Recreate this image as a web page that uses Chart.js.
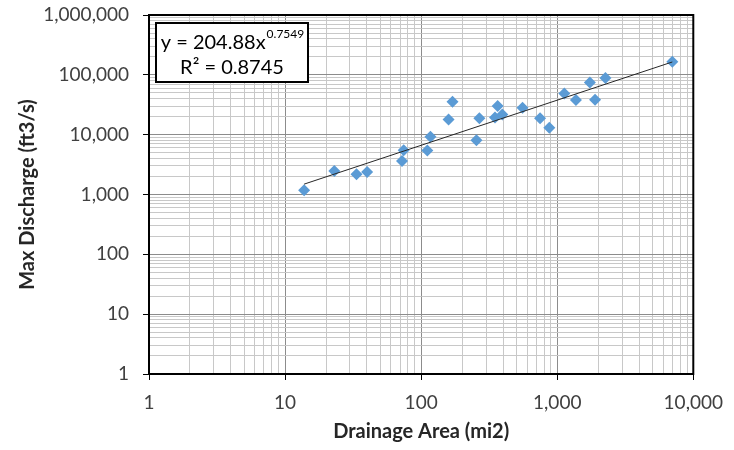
<!DOCTYPE html>
<html>
<head>
<meta charset="utf-8">
<script src="https://cdn.jsdelivr.net/npm/chart.js@4.4.1/dist/chart.umd.min.js"></script>
<style>
  html, body { margin: 0; padding: 0; background: #fff; }
  #wrap { width: 734px; height: 450px; }
</style>
</head>
<body>
<div id="wrap"><canvas id="chart" width="734" height="450"></canvas></div>
<script>
// ============================
// Data
// ============================
const areaMi2 = [13.8, 23.0, 33.5, 40.1, 72.3, 74.4, 111, 117, 159, 170, 255, 268, 349, 365, 395, 556, 748, 875, 1127, 1372, 1738, 1897, 2261, 7015];
const maxDischarge = [1175, 2480, 2180, 2380, 3640, 5500, 5430, 9190, 17990, 35460, 8090, 18890, 19410, 30000, 21790, 28100, 18890, 13000, 48980, 37840, 74800, 38280, 88300, 165600];

// trendline end points (power fit shown in the box)
const trendArea = [13.8, 7015];
const trendDischarge = [1490, 164000];

const xTickLabels = [1, 10, 100, 1000, 10000];
const yTickLabels = [1, 10, 100, 1000, 10000, 100000, 1000000];

const eqText = "y = 204.88x";
const eqPower = "0.7549";
const r2Text = "R² = 0.8745";

// ============================
// Helpers
// ============================
function decadeTicks(labels) {
  const out = [];
  for (let i = 0; i < labels.length - 1; i++) {
    for (let k = 1; k <= 9; k++) out.push({ value: labels[i] * k, major: k === 1 });
  }
  out.push({ value: labels[labels.length - 1], major: true });
  return out;
}

function isDecade(v) {
  const l = Math.log10(v);
  return Math.abs(l - Math.round(l)) < 1e-9;
}

const gridColor = (ctx) => (ctx.tick && isDecade(ctx.tick.value) ? "#8c8c8c" : "#c8c8c8");
const tickColor = (ctx) => (ctx.tick && isDecade(ctx.tick.value) ? "#000" : "rgba(0,0,0,0)");

// frame + equation box
const framePlugin = {
  id: "frame",
  afterDraw(chart) {
    const { ctx, chartArea: a } = chart;
    ctx.save();
    ctx.strokeStyle = "#000";
    ctx.lineWidth = 2;
    ctx.strokeRect(a.left, a.top, a.right - a.left, a.bottom - a.top);

    // equation text box
    const bx = 156, by = 23, bw = 152, bh = 59;
    ctx.fillStyle = "#fff";
    ctx.fillRect(bx, by, bw, bh);
    ctx.lineWidth = 2;
    ctx.strokeRect(bx, by, bw, bh);

    ctx.fillStyle = "#000";
    ctx.textBaseline = "alphabetic";
    ctx.font = "20px Lato";
    const w1 = ctx.measureText(eqText).width;
    ctx.font = "12px Lato";
    const w2 = ctx.measureText(eqPower).width;
    const startX = bx + (bw - w1 - w2) / 2;
    ctx.font = "20px Lato";
    ctx.textAlign = "left";
    ctx.fillText(eqText, startX, by + 26);
    ctx.font = "12px Lato";
    ctx.fillText(eqPower, startX + w1 + 1, by + 15);
    ctx.font = "20px Lato";
    ctx.textAlign = "center";
    ctx.fillText(r2Text, bx + bw / 2, by + 51);
    ctx.restore();
  }
};

// ============================
// Chart
// ============================
new Chart(document.getElementById("chart"), {
  type: "scatter",
  data: {
    datasets: [
      {
        label: "Max Discharge",
        data: areaMi2.map((x, i) => ({ x: x, y: maxDischarge[i] })),
        pointStyle: "rectRot",
        pointRadius: 6,
        pointHoverRadius: 6,
        backgroundColor: "#5b9bd5",
        borderColor: "#5b9bd5",
        borderWidth: 0,
        order: 2
      },
      {
        label: "Power fit",
        type: "line",
        data: trendArea.map((x, i) => ({ x: x, y: trendDischarge[i] })),
        borderColor: "#262626",
        borderWidth: 1,
        pointRadius: 0,
        fill: false,
        order: 1
      }
    ]
  },
  options: {
    responsive: false,
    animation: false,
    layout: { padding: { left: 0, top: 15, right: 36, bottom: 0 } },
    plugins: {
      legend: { display: false },
      tooltip: { enabled: false }
    },
    scales: {
      x: {
        type: "logarithmic",
        min: xTickLabels[0],
        max: xTickLabels[xTickLabels.length - 1],
        afterBuildTicks: (scale) => { scale.ticks = decadeTicks(xTickLabels); },
        afterFit: (scale) => { scale.height = 76; },
        grid: { color: gridColor, tickColor: tickColor, tickLength: 6, lineWidth: 1 },
        border: { display: true, color: "#000", width: 2 },
        ticks: {
          autoSkip: false,
          maxRotation: 0,
          padding: 11,
          color: "#404040",
          font: { family: "Lato", size: 19 },
          callback: (v) => (xTickLabels.includes(v) ? v.toLocaleString("en-US") : "")
        },
        title: {
          display: true,
          text: "Drainage Area (mi2)",
          color: "#262626",
          font: { family: "Lato", size: 20, weight: "bold" },
          padding: { top: 0, bottom: 6 }
        }
      },
      y: {
        type: "logarithmic",
        min: yTickLabels[0],
        max: yTickLabels[yTickLabels.length - 1],
        afterBuildTicks: (scale) => { scale.ticks = decadeTicks(yTickLabels); },
        afterFit: (scale) => {
          scale.width = 149;
          scale.paddingTop = 0;
          scale.paddingBottom = 0;
        },
        grid: { color: gridColor, tickColor: tickColor, tickLength: 6, lineWidth: 1 },
        border: { display: true, color: "#000", width: 2 },
        ticks: {
          autoSkip: false,
          padding: 14,
          color: "#404040",
          font: { family: "Lato", size: 19 },
          callback: (v) => (yTickLabels.includes(v) ? v.toLocaleString("en-US") : "")
        },
        title: {
          display: true,
          text: "Max Discharge (ft3/s)",
          color: "#262626",
          font: { family: "Lato", size: 20, weight: "bold" },
          padding: { top: 16, bottom: 0 }
        }
      }
    }
  },
  plugins: [framePlugin]
});
</script>
</body>
</html>
